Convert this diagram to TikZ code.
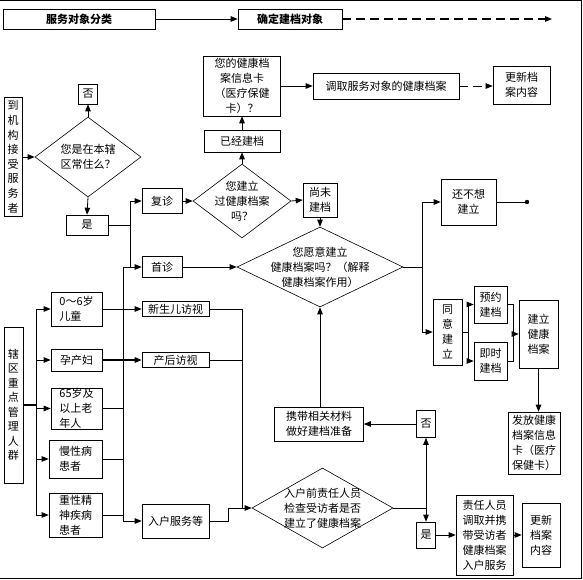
\documentclass[tikz,border=0pt]{standalone}
\usepackage{fontspec}
\setmainfont{Noto Sans CJK SC}
\usetikzlibrary{arrows.meta,shapes.geometric}
\tikzset{
  fnt/.style={font=\fontsize{11}{15}\selectfont},
  box/.style={draw, line width=0.6pt, inner sep=0pt, align=center, fnt},
  lbox/.style={box, align=left},
  dia/.style={draw, diamond, line width=0.6pt, inner sep=0pt, shape aspect=1},
  txt/.style={align=center, inner sep=0pt, fnt},
  ln/.style={line width=0.8pt},
  arr/.style={ln, -{Triangle[length=7pt,width=5.5pt]}},
  dsh/.style={arr, dash pattern=on 9pt off 5pt},
}
\begin{document}
\begin{tikzpicture}[x=1pt,y=-1pt]
\useasboundingbox (0,0) rectangle (583,580);
% frame
\draw[line width=1pt] (0,0.5) -- (581.5,0.5) -- (581.5,578) -- (0,578);

% top row
\node[box, font=\fontsize{11}{15}\selectfont\bfseries, minimum width=152pt, minimum height=20pt] (t1) at (79,19) {服务对象分类};
\node[box, font=\fontsize{11}{15}\selectfont\bfseries, minimum width=104pt, minimum height=20pt] (t2) at (290,19) {确定建档对象};
\coordinate (tend) at (552,19);
\draw[arr] (t1.east) -- (t2.west);
\draw[dsh, line width=1.2pt] (t2.east) -- (tend);

% upper-left
\node[box, minimum width=18pt, minimum height=119pt, font=\fontsize{11}{14.6}\selectfont] (bA) at (13,157) {到\\机\\构\\接\\受\\服\\务\\者};
\node[dia, minimum width=106pt, minimum height=80pt] (dA) at (88,157) {};
\node[txt] at (dA) {您是在本辖\\区常住么？};
\node[box, minimum width=19pt, minimum height=20pt] (no1) at (88,94) {否};
\node[box, minimum width=42pt, minimum height=20pt] (yes1) at (87,225) {是};
\draw[arr] (bA.east) -- (dA.west);
\draw[arr] (dA.north) -- (no1.south);
\draw[arr] (dA.south) -- (yes1.north);

\node[box, minimum width=40pt, minimum height=25pt] (fz) at (162,201) {复诊};
\node[box, minimum width=40pt, minimum height=21pt] (sz) at (162,267) {首诊};
\coordinate (j1) at (130,225);
\draw[ln] (yes1.east) -- (j1);
\draw[arr] (j1) |- (fz.west);
\draw[arr] (j1) |- (sz.west);

% existing record branch
\node[dia, minimum width=98pt, minimum height=74pt] (dB) at (242,201) {};
\node[txt] at (dB) {您建立\\过健康档案\\吗？};
\node[box, minimum width=76pt, minimum height=22pt] (yj) at (242,141) {已经建档};
\node[box, minimum width=77pt, minimum height=60pt] (card) at (242,86) {您的健康档\\案信息卡\\（医疗保健\\卡）？};
\node[box, minimum width=146pt, minimum height=26pt] (dq) at (386,86) {调取服务对象的健康档案};
\node[box, minimum width=57pt, minimum height=38pt] (up1) at (521.5,85) {更新档\\案内容};
\draw[arr] (fz.east) -- (dB.west);
\draw[arr] (dB.north) -- (yj.south);
\draw[arr] (yj.north) -- (card.south);
\draw[arr] (card.east) -- (dq.west);
\draw[dsh] (dq.east) -- (dq.east -| up1.west);

% not yet
\node[box, minimum width=34pt, minimum height=34pt] (wj) at (320,200) {尚未\\建档};
\node[dia, minimum width=166pt, minimum height=80pt] (dC) at (320,267) {};
\node[txt] at (dC) {您愿意建立\\健康档案吗？（解释\\健康档案作用）};
\draw[arr] (dB.east) -- (wj.west);
\draw[arr] (wj.south) -- (dC.north);
\draw[arr] (sz.east) -- (dC.west);

\node[box, minimum width=55pt, minimum height=46pt] (bx) at (468.5,202) {还不想\\建立};
\coordinate (dot) at (527,202);
\node[box, minimum width=29pt, minimum height=66pt] (ty) at (447.5,332) {同\\意\\建\\立};
\node[box, minimum width=33pt, minimum height=37pt] (yy) at (490.5,304.5) {预约\\建档};
\node[box, minimum width=33pt, minimum height=38pt] (js) at (490.5,361) {即时\\建档};
\node[box, minimum width=39pt, minimum height=68pt] (jl) at (538.5,334) {建立\\健康\\档案};
\node[box, minimum width=52pt, minimum height=62pt] (ff) at (534,443) {发放健康\\档案信息\\卡（医疗\\保健卡）};
\coordinate (j2) at (422,267);
\draw[ln] (dC.east) -- (j2);
\draw[arr] (j2) |- (bx.west);
\draw[arr] (j2) |- (ty.west);
\draw[ln] (bx.east) -- (dot);
\fill (dot) circle (2.2pt);
\coordinate (j3) at (468,332);
\draw[ln] (ty.east) -- (j3);
\draw[arr] (j3) |- (yy.west);
\draw[arr] (j3) |- (js.west);
\coordinate (j4) at (513,334);
\draw[ln] (yy.east) -| (j4);
\draw[ln] (js.east) -| (j4);
\draw[arr] (j4) -- (jl.west);
\draw[arr] (jl.south) -- (jl.south |- ff.north);

% key groups
\node[box, minimum width=19pt, minimum height=156pt, font=\fontsize{11}{14.5}\selectfont] (gl) at (13.5,405) {辖\\区\\重\\点\\管\\理\\人\\群};
\node[lbox, minimum width=51pt, minimum height=34pt] (c06) at (76.5,309) {0～6岁\\儿童};
\node[lbox, minimum width=51pt, minimum height=22pt] (ycf) at (76.5,360) {孕产妇};
\node[lbox, minimum width=51pt, minimum height=41pt] (lnr) at (76.5,408.5) {65岁及\\以上老\\年人};
\node[lbox, minimum width=53pt, minimum height=38pt] (mxb) at (75.5,459) {慢性病\\患者};
\node[lbox, minimum width=53pt, minimum height=44pt] (jsb) at (75.5,515) {重性精\\神疾病\\患者};
\coordinate (j5) at (36,405);
\draw[ln, line width=1.4pt] (gl.east) -- (j5);
\draw[ln] (j5 |- c06) -- (j5 |- jsb);
\draw[arr] (j5 |- c06) -- (c06.west);
\draw[arr] (j5 |- ycf) -- (ycf.west);
\draw[arr] (j5 |- lnr) -- (lnr.west);
\draw[arr] (j5 |- mxb) -- (mxb.west);
\draw[arr] (j5 |- jsb) -- (jsb.west);

\node[box, minimum width=67pt, minimum height=15pt] (xse) at (175.5,309) {新生儿访视};
\node[box, minimum width=67pt, minimum height=15pt] (chfs) at (175.5,360) {产后访视};
\node[box, minimum width=67pt, minimum height=34pt] (rh) at (175.5,521) {入户服务等};
\coordinate (bt) at (123,267);
\coordinate (bb) at (123,521);
\draw[ln] (bt) -- (bb);
\draw[ln] (bt) -- (j1 |- bt);
\draw[arr] (c06.east) -- (xse.west);
\draw[arr, line width=1.3pt] (ycf.east) -- (chfs.west);
\draw[ln] (lnr.east) -- (lnr.east -| bt);
\draw[ln] (mxb.east) -- (mxb.east -| bt);
\draw[ln] (jsb.east) -- (jsb.east -| bt);
\draw[arr] (bb) -- (rh.west);

% home visit
\node[dia, minimum width=141pt, minimum height=80pt] (dD) at (322.5,508) {};
\node[txt] at (dD) {入户前责任人员\\检查受访者是否\\建立了健康档案};
\coordinate (j7) at (242,508);
\coordinate (j8) at (228,508);
\draw[ln] (xse.east) -| (j7);
\draw[ln] (chfs.east) -- (chfs.east -| j7);
\draw[ln] (rh.east) -| (j8);
\draw[arr] (j8) -- (dD.west);

\node[box, minimum width=89pt, minimum height=34pt] (xd) at (319,424) {携带相关材料\\做好建档准备};
\node[box, minimum width=19pt, minimum height=27pt] (no2) at (426,424) {否};
\node[box, minimum width=19pt, minimum height=26pt] (yes2) at (426,535) {是};
\node[box, minimum width=57pt, minimum height=80pt] (zr) at (484.5,535) {责任人员\\调取并携\\带受访者\\健康档案\\入户服务};
\node[box, minimum width=38pt, minimum height=64pt] (up2) at (541,535) {更新\\档案\\内容};
\coordinate (j6) at (426,508);
\draw[ln] (dD.east) -- (j6);
\draw[arr] (j6) -- (no2.south);
\draw[arr] (j6) -- (yes2.north);
\draw[arr] (no2.west) -- (xd.east);
\draw[arr] (xd.north -| dC.south) -- (dC.south);
\draw[arr] (yes2.east) -- (zr.west);
\draw[arr] (zr.east) -- (up2.west);
\end{tikzpicture}
\end{document}
